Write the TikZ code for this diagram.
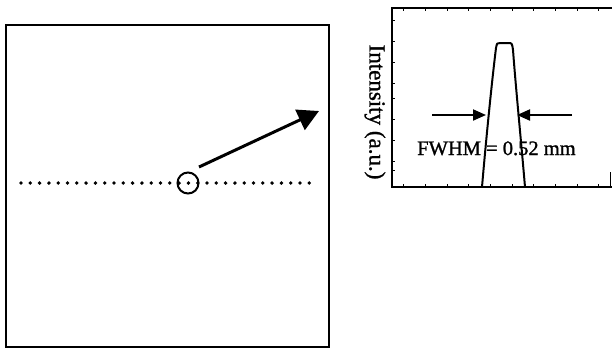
\documentclass[tikz,border=0pt]{standalone}
\usepackage{fontspec}
\setmainfont{Liberation Serif}
\newfontfamily\scanfont[FakeBold=1.2]{Liberation Serif}
\usetikzlibrary{arrows.meta}
\begin{document}
\begin{tikzpicture}[x=1pt,y=-1pt,
  frame/.style={draw=black,line width=2pt},
  dotline/.style={line width=3.8pt,line cap=round,dash pattern=on 0pt off 9.3pt},
  bigarrow/.style={line width=3pt,-{Triangle[length=21pt,width=22pt]}},
  smallarrow/.style={line width=2pt,-{Triangle[length=13pt,width=11pt]}},
  tick/.style={line width=1pt}]
\useasboundingbox (0,0) rectangle (612,349);
% left panel
\draw[frame] (6,25) rectangle (329,347);
\coordinate (dl) at (21,183);
\coordinate (dr) at (311,183);
\draw[dotline] (dl) -- (dr);
\node[circle,draw,line width=2pt,minimum size=21pt,inner sep=0pt] (spot) at (188,183) {};
\coordinate (as) at (199,167);
\coordinate (ae) at (319,111);
\draw[bigarrow] (as) -- (ae);
% right panel: plot frame
\draw[frame] (612,7.5) -- (392,7.5) -- (392,187) -- (612,187);
\coordinate (rt) at (610,172);
\coordinate (rb) at (610,187);
\draw[line width=1pt] (rt) -- (rb);
\foreach \x in {403,425,447,468,490,512,533,555,577,598}{
  \draw[tick] (\x,7.5) -- (\x,10.5);
  \draw[tick] (\x,187) -- (\x,184);
}
\foreach \y in {20,41,62,83,98,119,140,161,170}{
  \draw[tick] (392,\y) -- (395,\y);
}
% curve
\draw[line width=2pt,line join=round]
  (482,187) .. controls (486,140) and (492,80) .. (496,48)
  .. controls (497,43) .. (500,43) -- (508,43)
  .. controls (512,43) .. (513,50)
  .. controls (516,90) and (521,140) .. (525,187);
% FWHM arrows
\coordinate (la0) at (432,115);
\coordinate (la1) at (486,115);
\coordinate (ra0) at (572,115);
\coordinate (ra1) at (517,115);
\draw[smallarrow] (la0) -- (la1);
\draw[smallarrow] (ra0) -- (ra1);
\node[font=\scanfont\fontsize{20.5}{22}\selectfont,inner sep=0pt,anchor=base west] (fwhm) at (417,155) {FWHM = 0.52 mm};
\node[font=\scanfont\fontsize{23}{25}\selectfont,inner sep=0pt,rotate=-90] (ylab) at (375,112) {Intensity (a.u.)};
\end{tikzpicture}
\end{document}
